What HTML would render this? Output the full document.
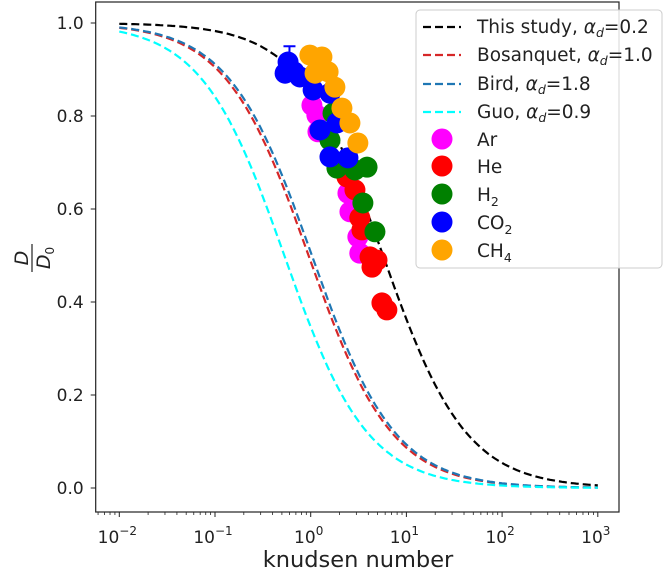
<!DOCTYPE html>
<html><head><meta charset="utf-8"><style>
body{margin:0;background:#fff}
svg text{font-family:"DejaVu Sans","Liberation Sans",sans-serif;fill:#222}
</style></head><body>
<svg id="chart" width="664" height="569" xmlns="http://www.w3.org/2000/svg">
<g id="plot"></g>
<g id="axes"></g>
<g id="legend"></g>
</svg>
<script>
const curveNames=["This study, α_d=0.2","Bosanquet, α_d=1.0","Bird, α_d=1.8","Guo, α_d=0.9"];
const curveScale=[5.7,0.95,1.03,0.53];
const curveColors=["#000000","#d62728","#1f77b4","#00ffff"];
const gasNames=["Ar","He","H2","CO2","CH4"];
const gasColors=["#ff00ff","#ff0000","#008000","#0000ff","#ffa500"];
const arKn=[1.03,1.16,1.19,2.45,2.57,3.11,3.26];
const arD=[0.823,0.802,0.766,0.634,0.594,0.540,0.505];
const heKn=[2.39,2.9,3.26,3.43,4.17,4.93,4.37,5.55,6.25];
const heD=[0.669,0.641,0.581,0.555,0.497,0.490,0.475,0.398,0.383];
const h2Kn=[1.71,1.59,1.88,2.9,3.88,3.51,4.69];
const h2D=[0.806,0.748,0.688,0.684,0.690,0.613,0.551];
const co2Kn=[0.58,0.54,0.77,1.06,1.59,1.25,1.88,1.59,2.45,0.67];
const co2D=[0.916,0.892,0.884,0.856,0.849,0.770,0.785,0.712,0.710,0.895];
const ch4Kn=[0.98,1.31,1.11,1.52,1.79,2.12,2.57,3.11];
const ch4D=[0.931,0.927,0.892,0.895,0.862,0.817,0.785,0.742];
const xTicks=[-2,-1,0,1,2,3];
const yTicks=[0,0.2,0.4,0.6,0.8,1.0];

const NS="http://www.w3.org/2000/svg";
const L=95.7,R=619,T=2,B=512;
function X(kn){return 310.7+95.7*Math.log10(kn);}
function Y(d){return 488-465*d;}
function el(tag,attrs,parent,txt){const e=document.createElementNS(NS,tag);for(const k in attrs)e.setAttribute(k,attrs[k]);if(txt!==undefined)e.textContent=txt;parent.appendChild(e);return e;}
const plot=document.getElementById('plot'),axes=document.getElementById('axes'),legend=document.getElementById('legend');

curveScale.forEach((k,i)=>{
  let pts=[];
  for(let j=0;j<=200;j++){const kn=Math.pow(10,-2+5*j/200);pts.push(X(kn).toFixed(1)+","+Y(1/(1+kn/k)).toFixed(1));}
  const p=el('polyline',{points:pts.join(" "),fill:"none",stroke:curveColors[i],"stroke-width":2.2,"stroke-dasharray":"8,4"},plot);
  
  
});
const eb=el('path',{d:`M${X(0.6)} ${Y(0.95)}V${Y(0.89)}M${X(0.6)-6} ${Y(0.95)}h12M${X(0.6)-6} ${Y(0.89)}h12`,stroke:"#0000ff","stroke-width":2,fill:"none"},plot);


const sets=[[arKn,arD],[heKn,heD],[h2Kn,h2D],[co2Kn,co2D],[ch4Kn,ch4D]];
sets.forEach((s,g)=>{
  s[0].forEach((kn,i)=>{
    const c=el('circle',{cx:X(kn),cy:Y(s[1][i]),r:10.5,fill:gasColors[g]},plot);
    
    
  });
});
el('rect',{x:L,y:T,width:R-L,height:B-T,fill:"none",stroke:"#222","stroke-width":1.2},axes);
xTicks.forEach(e=>{
  const x=X(Math.pow(10,e));
  el('line',{x1:x,x2:x,y1:B,y2:B+5,stroke:"#222"},axes);
  const t=el('text',{x:x-2,y:B+31,"font-size":17,"text-anchor":"middle"},axes);
  t.innerHTML=`10<tspan dy="-8" font-size="12">${e<0?'−'+(-e):e}</tspan>`;
  
  
});
for(let e=-3;e<=3;e++)for(let m=2;m<=9;m++){const x=X(m*Math.pow(10,e));if(x>L&&x<R)el('line',{x1:x,x2:x,y1:B,y2:B+3,stroke:"#222","stroke-width":0.8},axes);}
yTicks.forEach(v=>{
  const y=Y(v);
  el('line',{x1:L-5,x2:L,y1:y,y2:y,stroke:"#222"},axes);
  const t=el('text',{x:L-12,y:y+6,"font-size":17,"text-anchor":"end"},axes,v.toFixed(1));
  
  
});
const xt=el('text',{x:358,y:567,"font-size":22.5,"text-anchor":"middle"},axes,"knudsen number");


const yt=el('g',{transform:"translate(32,258) rotate(-90)"},axes);


el('text',{x:0,y:-4,"font-size":19,"text-anchor":"middle","font-style":"italic"},yt,"D");
el('line',{x1:-14,x2:14,y1:0,y2:0,stroke:"#222","stroke-width":1.2},yt);
const d0=el('text',{x:0,y:18,"font-size":19,"text-anchor":"middle","font-style":"italic"},yt);
d0.innerHTML='D<tspan dy="4" font-size="12" font-style="normal">0</tspan>';
el('rect',{x:416,y:10,width:246,height:258,rx:4,fill:"#fff","fill-opacity":0.85,stroke:"#ccc"},legend);
const ly=[27,55,84,112,139,166,194,222,250];
curveNames.forEach((n,i)=>{
  const y=ly[i];
  el('line',{x1:423,x2:461,y1:y,y2:y,stroke:curveColors[i],"stroke-width":2.2,"stroke-dasharray":"8,4"},legend);
  const parts=n.split("α_d");
  const t=el('text',{x:477,y:y+6,"font-size":18.5},legend);
  t.innerHTML=parts[0]+'<tspan font-style="italic">α</tspan><tspan dy="4" font-size="12.5" font-style="italic">d</tspan><tspan dy="-4">'+parts[1]+'</tspan>';
  
  
});
gasNames.forEach((n,i)=>{
  const y=ly[4+i];
  el('circle',{cx:442,cy:y,r:10.5,fill:gasColors[i]},legend);
  const t=el('text',{x:477,y:y+7,"font-size":18.5},legend);
  const m=n.match(/^(\D+)(\d*)$/);
  t.innerHTML=m[1]+(m[2]?'<tspan dy="5" font-size="12.5">'+m[2]+'</tspan>':'');
  
  
});
</script>
</body></html>
